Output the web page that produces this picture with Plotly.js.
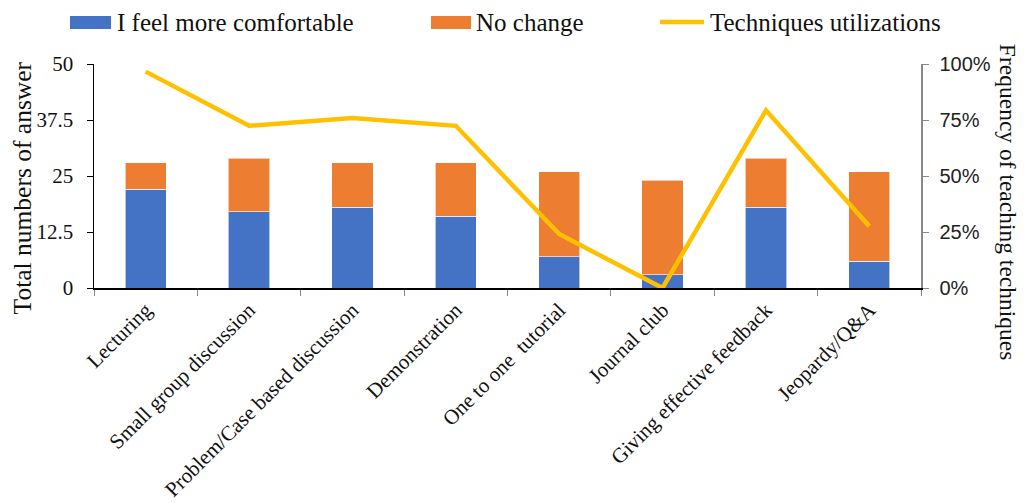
<!DOCTYPE html>
<html>
<head>
<meta charset="utf-8">
<script src="https://cdn.plot.ly/plotly-3.0.1.min.js"></script>
<style>html,body{margin:0;padding:0;background:#fff;}#chart{width:1024px;height:503px;}</style>
</head>
<body>
<div id="chart"></div>
<script>
const categories = ["Lecturing", "Small group discussion", "Problem/Case based discussion", "Demonstration", "One to one  tutorial", "Journal club", "Giving effective feedback", "Jeopardy/Q&A"];
const moreComfortable = [22, 17, 18, 16, 7, 3, 18, 6];
const noChange = [6, 12, 10, 12, 19, 21, 11, 20];
const utilization = [0.966, 0.724, 0.759, 0.724, 0.241, 0.0, 0.793, 0.276];
const leftTicks = [0, 12.5, 25, 37.5, 50];
const leftTickLabels = ["0", "12.5", "25", "37.5", "50"];
const rightTicks = [0, 0.25, 0.5, 0.75, 1];
const rightTickLabels = ["0%", "25%", "50%", "75%", "100%"];
const seriesNames = ["I feel more comfortable", "No change", "Techniques utilizations"];
const seriesColors = ["#4472C4", "#ED7D31", "#FFC000"];
const leftTitle = "Total numbers of answer";
const rightTitle = "Frequency of teaching techniques";

const serif = "Liberation Serif, Times New Roman, serif";
const sans = "Liberation Sans, Arial, sans-serif";

const traces = [
  {type: "bar", name: seriesNames[0], x: categories, y: moreComfortable, showlegend: false,
   marker: {color: seriesColors[0], line: {color: "rgba(255,255,255,0.6)", width: 1}}, width: 0.4},
  {type: "bar", name: seriesNames[1], x: categories, y: noChange, showlegend: false,
   marker: {color: seriesColors[1], line: {color: "rgba(255,255,255,0.6)", width: 1}}, width: 0.4},
  {type: "scatter", mode: "lines", name: seriesNames[2], x: categories, y: utilization, showlegend: false,
   yaxis: "y2", line: {color: seriesColors[2], width: 4.5}}
];

// custom legend (positions in paper coordinates)
const legendY = 1.1875;
const legendShapes = [
  {type: "rect", xref: "paper", yref: "paper", x0: -0.029, x1: 0.0206, y0: 1.156, y1: 1.214,
   fillcolor: seriesColors[0], line: {width: 0}},
  {type: "rect", xref: "paper", yref: "paper", x0: 0.4075, x1: 0.4559, y0: 1.156, y1: 1.214,
   fillcolor: seriesColors[1], line: {width: 0}},
  {type: "line", xref: "paper", yref: "paper", x0: 0.6844, x1: 0.7376, y0: legendY, y1: legendY,
   line: {color: seriesColors[2], width: 4.5}}
];
const legendTextX = [0.0266, 0.4607, 0.7437];
const legendAnn = seriesNames.map((n, i) => ({
  text: n, xref: "paper", yref: "paper", x: legendTextX[i], y: legendY,
  xanchor: "left", yanchor: "middle", showarrow: false, borderpad: 0,
  font: {family: serif, size: 25, color: "#111"}
}));

const layout = {
  width: 1024, height: 503,
  margin: {l: 94, r: 103, t: 64, b: 215},
  barmode: "stack",
  paper_bgcolor: "#fff", plot_bgcolor: "#fff",
  font: {family: serif, size: 21, color: "#111"},
  showlegend: false,
  xaxis: {type: "category", showline: true, linecolor: "#000", linewidth: 1.5,
          ticks: "outside", tickson: "boundaries", ticklen: 6, tickcolor: "#888",
          tickangle: -45, tickfont: {family: serif, size: 21, color: "#111"},
          showgrid: false, zeroline: false},
  yaxis: {range: [0, 50], tickvals: leftTicks, ticktext: leftTickLabels, showline: true,
          linecolor: "#000", linewidth: 1.5, ticks: "outside", ticklen: 6, tickcolor: "#000",
          ticklabelstandoff: 9,
          showgrid: false, zeroline: false, tickfont: {family: serif, size: 21, color: "#111"}},
  yaxis2: {range: [0, 1], overlaying: "y", side: "right", tickvals: rightTicks, ticktext: rightTickLabels,
           showline: true, linecolor: "#888", linewidth: 1.5, ticks: "outside", ticklen: 6, tickcolor: "#888",
           ticklabelstandoff: 7,
           showgrid: false, zeroline: false, tickfont: {family: sans, size: 20, color: "#222"}},
  shapes: legendShapes,
  annotations: legendAnn.concat([
    {text: leftTitle, xref: "paper", yref: "paper", x: -0.0871, y: 0.449,
     xanchor: "center", yanchor: "middle", textangle: -90, showarrow: false,
     font: {family: serif, size: 25.5, color: "#111"}},
    {text: rightTitle, xref: "paper", yref: "paper", x: 1.106, y: 0.386,
     xanchor: "center", yanchor: "middle", textangle: 90, showarrow: false,
     font: {family: serif, size: 23.5, color: "#111"}}
  ])
};

Plotly.newPlot("chart", traces, layout, {displayModeBar: false, staticPlot: true});
</script>
</body>
</html>
